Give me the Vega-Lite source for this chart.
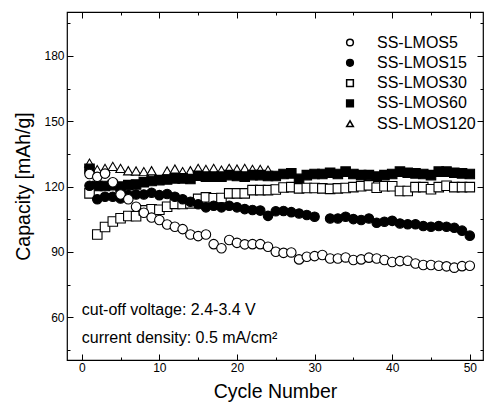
{
  "$schema": "https://vega.github.io/schema/vega-lite/v6.json",
  "width": 416,
  "height": 348,
  "autosize": "none",
  "padding": {"left": 67, "top": 12, "right": 1, "bottom": 48},
  "background": "white",
  "config": {
    "view": {"stroke": "black", "strokeWidth": 1.2},
    "font": "Liberation Sans",
    "axis": {
      "domain": false, "grid": false, "ticks": true,
      "labelFont": "Liberation Sans", "labelFontSize": 12, "labelColor": "black",
      "titleFont": "Liberation Sans", "titleFontSize": 19.5, "titleFontWeight": "normal", "titleColor": "black",
      "tickColor": "black", "tickSize": -6, "tickWidth": 1,
      "labelFlush": false, "labelOverlap": false
    }
  },
  "datasets": {
    "points": [
      {"series": "SS-LMOS120", "cycle": 1, "capacity": 130.8},
      {"series": "SS-LMOS120", "cycle": 2, "capacity": 127.8},
      {"series": "SS-LMOS120", "cycle": 3, "capacity": 128.4},
      {"series": "SS-LMOS120", "cycle": 4, "capacity": 129.3},
      {"series": "SS-LMOS120", "cycle": 5, "capacity": 128.4},
      {"series": "SS-LMOS120", "cycle": 6, "capacity": 127.3},
      {"series": "SS-LMOS120", "cycle": 7, "capacity": 127.2},
      {"series": "SS-LMOS120", "cycle": 8, "capacity": 126.9},
      {"series": "SS-LMOS120", "cycle": 9, "capacity": 127.3},
      {"series": "SS-LMOS120", "cycle": 11, "capacity": 127.2},
      {"series": "SS-LMOS120", "cycle": 12, "capacity": 128.1},
      {"series": "SS-LMOS120", "cycle": 13, "capacity": 126.9},
      {"series": "SS-LMOS120", "cycle": 14, "capacity": 127.3},
      {"series": "SS-LMOS120", "cycle": 15, "capacity": 128.4},
      {"series": "SS-LMOS120", "cycle": 16, "capacity": 127.9},
      {"series": "SS-LMOS120", "cycle": 17, "capacity": 128.4},
      {"series": "SS-LMOS120", "cycle": 18, "capacity": 127.6},
      {"series": "SS-LMOS120", "cycle": 19, "capacity": 128.4},
      {"series": "SS-LMOS120", "cycle": 20, "capacity": 128.1},
      {"series": "SS-LMOS120", "cycle": 21, "capacity": 128.4},
      {"series": "SS-LMOS120", "cycle": 22, "capacity": 127.9},
      {"series": "SS-LMOS120", "cycle": 23, "capacity": 127.9},
      {"series": "SS-LMOS120", "cycle": 24, "capacity": 127.6},

      {"series": "SS-LMOS60", "cycle": 1, "capacity": 128.2},
      {"series": "SS-LMOS60", "cycle": 2, "capacity": 120.3},
      {"series": "SS-LMOS60", "cycle": 3, "capacity": 120.3},
      {"series": "SS-LMOS60", "cycle": 4, "capacity": 120.7},
      {"series": "SS-LMOS60", "cycle": 5, "capacity": 120.0},
      {"series": "SS-LMOS60", "cycle": 6, "capacity": 120.7},
      {"series": "SS-LMOS60", "cycle": 7, "capacity": 121.0},
      {"series": "SS-LMOS60", "cycle": 8, "capacity": 122.0},
      {"series": "SS-LMOS60", "cycle": 9, "capacity": 122.6},
      {"series": "SS-LMOS60", "cycle": 10, "capacity": 123.0},
      {"series": "SS-LMOS60", "cycle": 11, "capacity": 123.3},
      {"series": "SS-LMOS60", "cycle": 12, "capacity": 123.8},
      {"series": "SS-LMOS60", "cycle": 13, "capacity": 123.8},
      {"series": "SS-LMOS60", "cycle": 14, "capacity": 123.5},
      {"series": "SS-LMOS60", "cycle": 15, "capacity": 125.0},
      {"series": "SS-LMOS60", "cycle": 16, "capacity": 124.6},
      {"series": "SS-LMOS60", "cycle": 17, "capacity": 124.6},
      {"series": "SS-LMOS60", "cycle": 18, "capacity": 124.6},
      {"series": "SS-LMOS60", "cycle": 19, "capacity": 125.3},
      {"series": "SS-LMOS60", "cycle": 20, "capacity": 124.9},
      {"series": "SS-LMOS60", "cycle": 21, "capacity": 124.6},
      {"series": "SS-LMOS60", "cycle": 22, "capacity": 125.3},
      {"series": "SS-LMOS60", "cycle": 23, "capacity": 125.3},
      {"series": "SS-LMOS60", "cycle": 24, "capacity": 124.9},
      {"series": "SS-LMOS60", "cycle": 25, "capacity": 124.9},
      {"series": "SS-LMOS60", "cycle": 26, "capacity": 125.8},
      {"series": "SS-LMOS60", "cycle": 27, "capacity": 126.1},
      {"series": "SS-LMOS60", "cycle": 28, "capacity": 123.6},
      {"series": "SS-LMOS60", "cycle": 29, "capacity": 125.3},
      {"series": "SS-LMOS60", "cycle": 30, "capacity": 125.8},
      {"series": "SS-LMOS60", "cycle": 31, "capacity": 125.8},
      {"series": "SS-LMOS60", "cycle": 32, "capacity": 126.4},
      {"series": "SS-LMOS60", "cycle": 33, "capacity": 125.8},
      {"series": "SS-LMOS60", "cycle": 34, "capacity": 126.9},
      {"series": "SS-LMOS60", "cycle": 35, "capacity": 125.8},
      {"series": "SS-LMOS60", "cycle": 36, "capacity": 125.3},
      {"series": "SS-LMOS60", "cycle": 37, "capacity": 125.3},
      {"series": "SS-LMOS60", "cycle": 38, "capacity": 124.6},
      {"series": "SS-LMOS60", "cycle": 39, "capacity": 125.3},
      {"series": "SS-LMOS60", "cycle": 40, "capacity": 125.8},
      {"series": "SS-LMOS60", "cycle": 41, "capacity": 126.9},
      {"series": "SS-LMOS60", "cycle": 42, "capacity": 126.4},
      {"series": "SS-LMOS60", "cycle": 43, "capacity": 126.1},
      {"series": "SS-LMOS60", "cycle": 44, "capacity": 125.8},
      {"series": "SS-LMOS60", "cycle": 45, "capacity": 125.3},
      {"series": "SS-LMOS60", "cycle": 46, "capacity": 126.9},
      {"series": "SS-LMOS60", "cycle": 47, "capacity": 126.9},
      {"series": "SS-LMOS60", "cycle": 48, "capacity": 126.4},
      {"series": "SS-LMOS60", "cycle": 49, "capacity": 126.1},
      {"series": "SS-LMOS60", "cycle": 50, "capacity": 125.8},

      {"series": "SS-LMOS30", "cycle": 1, "capacity": 116.9},
      {"series": "SS-LMOS30", "cycle": 2, "capacity": 98.0},
      {"series": "SS-LMOS30", "cycle": 3, "capacity": 101.5},
      {"series": "SS-LMOS30", "cycle": 4, "capacity": 104.0},
      {"series": "SS-LMOS30", "cycle": 5, "capacity": 105.5},
      {"series": "SS-LMOS30", "cycle": 6, "capacity": 106.5},
      {"series": "SS-LMOS30", "cycle": 7, "capacity": 106.4},
      {"series": "SS-LMOS30", "cycle": 8, "capacity": 109.1},
      {"series": "SS-LMOS30", "cycle": 9, "capacity": 109.6},
      {"series": "SS-LMOS30", "cycle": 10, "capacity": 109.4},
      {"series": "SS-LMOS30", "cycle": 11, "capacity": 110.8},
      {"series": "SS-LMOS30", "cycle": 12, "capacity": 112.1},
      {"series": "SS-LMOS30", "cycle": 13, "capacity": 112.0},
      {"series": "SS-LMOS30", "cycle": 14, "capacity": 112.3},
      {"series": "SS-LMOS30", "cycle": 15, "capacity": 114.4},
      {"series": "SS-LMOS30", "cycle": 16, "capacity": 115.1},
      {"series": "SS-LMOS30", "cycle": 17, "capacity": 114.7},
      {"series": "SS-LMOS30", "cycle": 18, "capacity": 114.8},
      {"series": "SS-LMOS30", "cycle": 19, "capacity": 116.9},
      {"series": "SS-LMOS30", "cycle": 20, "capacity": 116.9},
      {"series": "SS-LMOS30", "cycle": 21, "capacity": 116.9},
      {"series": "SS-LMOS30", "cycle": 22, "capacity": 118.4},
      {"series": "SS-LMOS30", "cycle": 23, "capacity": 118.4},
      {"series": "SS-LMOS30", "cycle": 24, "capacity": 118.4},
      {"series": "SS-LMOS30", "cycle": 25, "capacity": 118.7},
      {"series": "SS-LMOS30", "cycle": 26, "capacity": 119.6},
      {"series": "SS-LMOS30", "cycle": 27, "capacity": 119.8},
      {"series": "SS-LMOS30", "cycle": 28, "capacity": 119.2},
      {"series": "SS-LMOS30", "cycle": 29, "capacity": 119.4},
      {"series": "SS-LMOS30", "cycle": 30, "capacity": 119.4},
      {"series": "SS-LMOS30", "cycle": 31, "capacity": 119.2},
      {"series": "SS-LMOS30", "cycle": 32, "capacity": 119.0},
      {"series": "SS-LMOS30", "cycle": 33, "capacity": 119.2},
      {"series": "SS-LMOS30", "cycle": 34, "capacity": 119.4},
      {"series": "SS-LMOS30", "cycle": 35, "capacity": 119.8},
      {"series": "SS-LMOS30", "cycle": 36, "capacity": 120.2},
      {"series": "SS-LMOS30", "cycle": 37, "capacity": 120.6},
      {"series": "SS-LMOS30", "cycle": 38, "capacity": 119.5},
      {"series": "SS-LMOS30", "cycle": 39, "capacity": 120.2},
      {"series": "SS-LMOS30", "cycle": 40, "capacity": 120.2},
      {"series": "SS-LMOS30", "cycle": 41, "capacity": 118.0},
      {"series": "SS-LMOS30", "cycle": 42, "capacity": 118.0},
      {"series": "SS-LMOS30", "cycle": 43, "capacity": 119.8},
      {"series": "SS-LMOS30", "cycle": 44, "capacity": 119.8},
      {"series": "SS-LMOS30", "cycle": 45, "capacity": 118.8},
      {"series": "SS-LMOS30", "cycle": 46, "capacity": 119.8},
      {"series": "SS-LMOS30", "cycle": 47, "capacity": 120.4},
      {"series": "SS-LMOS30", "cycle": 48, "capacity": 119.8},
      {"series": "SS-LMOS30", "cycle": 49, "capacity": 119.8},
      {"series": "SS-LMOS30", "cycle": 50, "capacity": 119.8},

      {"series": "SS-LMOS15", "cycle": 1, "capacity": 120.4},
      {"series": "SS-LMOS15", "cycle": 2, "capacity": 114.2},
      {"series": "SS-LMOS15", "cycle": 3, "capacity": 115.4},
      {"series": "SS-LMOS15", "cycle": 4, "capacity": 115.4},
      {"series": "SS-LMOS15", "cycle": 5, "capacity": 114.6},
      {"series": "SS-LMOS15", "cycle": 6, "capacity": 116.1},
      {"series": "SS-LMOS15", "cycle": 7, "capacity": 116.4},
      {"series": "SS-LMOS15", "cycle": 8, "capacity": 116.4},
      {"series": "SS-LMOS15", "cycle": 9, "capacity": 117.2},
      {"series": "SS-LMOS15", "cycle": 10, "capacity": 116.1},
      {"series": "SS-LMOS15", "cycle": 11, "capacity": 116.6},
      {"series": "SS-LMOS15", "cycle": 12, "capacity": 115.4},
      {"series": "SS-LMOS15", "cycle": 13, "capacity": 114.2},
      {"series": "SS-LMOS15", "cycle": 14, "capacity": 113.1},
      {"series": "SS-LMOS15", "cycle": 15, "capacity": 111.9},
      {"series": "SS-LMOS15", "cycle": 16, "capacity": 110.5},
      {"series": "SS-LMOS15", "cycle": 17, "capacity": 111.2},
      {"series": "SS-LMOS15", "cycle": 18, "capacity": 110.5},
      {"series": "SS-LMOS15", "cycle": 19, "capacity": 111.2},
      {"series": "SS-LMOS15", "cycle": 20, "capacity": 110.5},
      {"series": "SS-LMOS15", "cycle": 21, "capacity": 109.7},
      {"series": "SS-LMOS15", "cycle": 22, "capacity": 109.3},
      {"series": "SS-LMOS15", "cycle": 23, "capacity": 109.0},
      {"series": "SS-LMOS15", "cycle": 24, "capacity": 106.6},
      {"series": "SS-LMOS15", "cycle": 25, "capacity": 108.7},
      {"series": "SS-LMOS15", "cycle": 26, "capacity": 108.8},
      {"series": "SS-LMOS15", "cycle": 27, "capacity": 108.3},
      {"series": "SS-LMOS15", "cycle": 28, "capacity": 107.7},
      {"series": "SS-LMOS15", "cycle": 29, "capacity": 107.0},
      {"series": "SS-LMOS15", "cycle": 30, "capacity": 106.2},
      {"series": "SS-LMOS15", "cycle": 32, "capacity": 105.4},
      {"series": "SS-LMOS15", "cycle": 33, "capacity": 105.4},
      {"series": "SS-LMOS15", "cycle": 34, "capacity": 106.2},
      {"series": "SS-LMOS15", "cycle": 35, "capacity": 105.1},
      {"series": "SS-LMOS15", "cycle": 36, "capacity": 104.7},
      {"series": "SS-LMOS15", "cycle": 37, "capacity": 105.4},
      {"series": "SS-LMOS15", "cycle": 38, "capacity": 103.4},
      {"series": "SS-LMOS15", "cycle": 39, "capacity": 103.9},
      {"series": "SS-LMOS15", "cycle": 40, "capacity": 104.3},
      {"series": "SS-LMOS15", "cycle": 41, "capacity": 103.1},
      {"series": "SS-LMOS15", "cycle": 42, "capacity": 102.7},
      {"series": "SS-LMOS15", "cycle": 43, "capacity": 102.7},
      {"series": "SS-LMOS15", "cycle": 44, "capacity": 101.9},
      {"series": "SS-LMOS15", "cycle": 45, "capacity": 101.6},
      {"series": "SS-LMOS15", "cycle": 46, "capacity": 101.9},
      {"series": "SS-LMOS15", "cycle": 47, "capacity": 101.6},
      {"series": "SS-LMOS15", "cycle": 48, "capacity": 101.1},
      {"series": "SS-LMOS15", "cycle": 49, "capacity": 99.8},
      {"series": "SS-LMOS15", "cycle": 50, "capacity": 97.5},

      {"series": "SS-LMOS5", "cycle": 1, "capacity": 125.8},
      {"series": "SS-LMOS5", "cycle": 2, "capacity": 124.5},
      {"series": "SS-LMOS5", "cycle": 3, "capacity": 126.0},
      {"series": "SS-LMOS5", "cycle": 4, "capacity": 122.0},
      {"series": "SS-LMOS5", "cycle": 5, "capacity": 116.4},
      {"series": "SS-LMOS5", "cycle": 6, "capacity": 114.2},
      {"series": "SS-LMOS5", "cycle": 7, "capacity": 110.8},
      {"series": "SS-LMOS5", "cycle": 8, "capacity": 108.0},
      {"series": "SS-LMOS5", "cycle": 9, "capacity": 105.8},
      {"series": "SS-LMOS5", "cycle": 10, "capacity": 104.7},
      {"series": "SS-LMOS5", "cycle": 11, "capacity": 102.6},
      {"series": "SS-LMOS5", "cycle": 12, "capacity": 101.6},
      {"series": "SS-LMOS5", "cycle": 13, "capacity": 100.5},
      {"series": "SS-LMOS5", "cycle": 14, "capacity": 98.0},
      {"series": "SS-LMOS5", "cycle": 15, "capacity": 97.3},
      {"series": "SS-LMOS5", "cycle": 16, "capacity": 98.0},
      {"series": "SS-LMOS5", "cycle": 17, "capacity": 93.6},
      {"series": "SS-LMOS5", "cycle": 18, "capacity": 91.7},
      {"series": "SS-LMOS5", "cycle": 19, "capacity": 95.5},
      {"series": "SS-LMOS5", "cycle": 20, "capacity": 94.2},
      {"series": "SS-LMOS5", "cycle": 21, "capacity": 93.5},
      {"series": "SS-LMOS5", "cycle": 22, "capacity": 93.6},
      {"series": "SS-LMOS5", "cycle": 23, "capacity": 93.6},
      {"series": "SS-LMOS5", "cycle": 24, "capacity": 92.4},
      {"series": "SS-LMOS5", "cycle": 25, "capacity": 90.1},
      {"series": "SS-LMOS5", "cycle": 26, "capacity": 89.6},
      {"series": "SS-LMOS5", "cycle": 27, "capacity": 89.8},
      {"series": "SS-LMOS5", "cycle": 28, "capacity": 86.6},
      {"series": "SS-LMOS5", "cycle": 29, "capacity": 87.8},
      {"series": "SS-LMOS5", "cycle": 30, "capacity": 88.1},
      {"series": "SS-LMOS5", "cycle": 31, "capacity": 88.6},
      {"series": "SS-LMOS5", "cycle": 32, "capacity": 87.0},
      {"series": "SS-LMOS5", "cycle": 33, "capacity": 87.0},
      {"series": "SS-LMOS5", "cycle": 34, "capacity": 87.5},
      {"series": "SS-LMOS5", "cycle": 35, "capacity": 86.3},
      {"series": "SS-LMOS5", "cycle": 36, "capacity": 86.6},
      {"series": "SS-LMOS5", "cycle": 37, "capacity": 87.4},
      {"series": "SS-LMOS5", "cycle": 38, "capacity": 87.0},
      {"series": "SS-LMOS5", "cycle": 39, "capacity": 86.3},
      {"series": "SS-LMOS5", "cycle": 40, "capacity": 85.4},
      {"series": "SS-LMOS5", "cycle": 41, "capacity": 85.8},
      {"series": "SS-LMOS5", "cycle": 42, "capacity": 86.0},
      {"series": "SS-LMOS5", "cycle": 43, "capacity": 84.7},
      {"series": "SS-LMOS5", "cycle": 44, "capacity": 84.0},
      {"series": "SS-LMOS5", "cycle": 45, "capacity": 84.0},
      {"series": "SS-LMOS5", "cycle": 46, "capacity": 83.7},
      {"series": "SS-LMOS5", "cycle": 47, "capacity": 83.4},
      {"series": "SS-LMOS5", "cycle": 48, "capacity": 82.8},
      {"series": "SS-LMOS5", "cycle": 49, "capacity": 83.5},
      {"series": "SS-LMOS5", "cycle": 50, "capacity": 83.7}
    ],
    "notes": [
      {"text": "cut-off voltage: 2.4-3.4 V", "cycle": 0, "capacity": 61.1},
      {"text": "current density: 0.5 mA/cm²", "cycle": 0, "capacity": 48.2}
    ]
  },
  "resolve": {"axis": {"x": "independent", "y": "independent"}},
  "layer": [
    {
      "data": {"name": "points"},
      "mark": {"type": "point", "filled": true, "stroke": "black", "strokeWidth": 1.1, "size": 90, "opacity": 1},
      "encoding": {
        "x": {
          "field": "cycle", "type": "quantitative",
          "scale": {"domain": [-1.9, 51.7], "nice": false, "zero": false},
          "axis": {
            "orient": "bottom", "title": "Cycle Number",
            "values": [0, 5, 10, 15, 20, 25, 30, 35, 40, 45, 50],
            "labelExpr": "datum.value % 10 === 0 ? datum.label : ''",
            "labelPadding": 8, "titlePadding": 6,
            "tickSize": {"condition": {"test": "datum.value % 10 === 0", "value": -6}, "value": -3}
          }
        },
        "y": {
          "field": "capacity", "type": "quantitative",
          "scale": {"domain": [40.4, 200.2], "nice": false, "zero": false},
          "axis": {
            "orient": "left", "title": "Capacity [mAh/g]",
            "values": [45, 60, 75, 90, 105, 120, 135, 150, 165, 180, 195],
            "labelExpr": "datum.value % 30 === 0 ? datum.label : ''",
            "labelPadding": 9, "titlePadding": 10,
            "tickSize": {"condition": {"test": "datum.value % 30 === 0", "value": -6}, "value": -3}
          }
        },
        "shape": {
          "field": "series", "type": "nominal",
          "scale": {"domain": ["SS-LMOS5", "SS-LMOS15", "SS-LMOS30", "SS-LMOS60", "SS-LMOS120"], "range": ["circle", "circle", "square", "square", "triangle-up"]},
          "legend": {"title": null, "orient": "none", "legendX": 275, "legendY": 22.5, "labelFont": "Liberation Sans", "labelFontSize": 16, "labelColor": "black", "symbolSize": 45, "labelOffset": 19, "rowPadding": 4.3,
            "encode": {"symbols": {"update": {"stroke": {"value": "black"}, "strokeWidth": {"value": 1}}}}}
        },
        "fill": {
          "field": "series", "type": "nominal",
          "scale": {"domain": ["SS-LMOS5", "SS-LMOS15", "SS-LMOS30", "SS-LMOS60", "SS-LMOS120"], "range": ["white", "black", "white", "black", "white"]},
          "legend": {"title": null, "orient": "none", "legendX": 275, "legendY": 22.5, "labelFont": "Liberation Sans", "labelFontSize": 16, "labelColor": "black", "symbolSize": 45, "labelOffset": 19, "rowPadding": 4.3,
            "encode": {"symbols": {"update": {"stroke": {"value": "black"}, "strokeWidth": {"value": 1}}}}}
        }
      }
    },
    {
      "data": {"name": "notes"},
      "mark": {"type": "text", "align": "left", "baseline": "alphabetic", "fontSize": 16, "font": "Liberation Sans", "color": "black"},
      "encoding": {
        "x": {
          "field": "cycle", "type": "quantitative",
          "scale": {"domain": [-1.9, 51.7], "nice": false, "zero": false},
          "axis": {
            "orient": "top", "title": null, "labels": false,
            "values": [0, 5, 10, 15, 20, 25, 30, 35, 40, 45, 50],
            "tickSize": {"condition": {"test": "datum.value % 10 === 0", "value": -6}, "value": -3}
          }
        },
        "y": {
          "field": "capacity", "type": "quantitative",
          "scale": {"domain": [40.4, 200.2], "nice": false, "zero": false},
          "axis": {
            "orient": "right", "title": null, "labels": false,
            "values": [45, 60, 75, 90, 105, 120, 135, 150, 165, 180, 195],
            "tickSize": {"condition": {"test": "datum.value % 30 === 0", "value": -6}, "value": -3}
          }
        },
        "text": {"field": "text"}
      }
    }
  ]
}
